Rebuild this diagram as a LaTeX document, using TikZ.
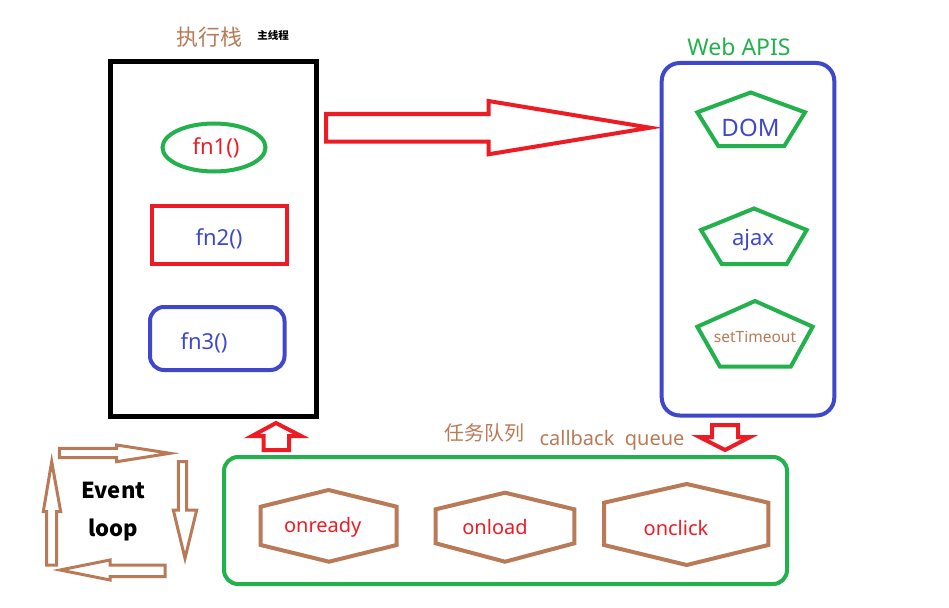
\documentclass[tikz,border=0pt]{standalone}
\usepackage{fontspec}
\setmainfont{Noto Sans}
\newfontfamily\cjk{Noto Sans CJK SC}
\definecolor{pgreen}{HTML}{22B14C}
\definecolor{pred}{HTML}{ED1C24}
\definecolor{pblue}{HTML}{3F48CC}
\definecolor{pbrown}{HTML}{B97A57}
\tikzset{
  txt/.style={inner sep=0pt, font=\fontsize{22}{26}\selectfont},
  pshape/.style={line width=4pt, line join=miter},
  loopar/.style={pbrown, line width=3pt, line join=miter},
  redar/.style={pred, line width=4pt, line join=miter},
}
\begin{document}
\begin{tikzpicture}[x=1pt,y=-1pt]
\useasboundingbox (0,0) rectangle (949,607);

% titles
\node[txt, text=pbrown, font=\cjk\fontsize{22}{26}\selectfont] (ttl) at (209,37) {执行栈};
\node[txt, font=\cjk\bfseries\fontsize{10.5}{12}\selectfont] (sub) at (273,35) {主线程};
\node[txt, text=pgreen, font=\fontsize{23}{27}\selectfont] (web) at (739,47) {Web APIS};

% call stack
\draw[line width=5pt] (110,62) rectangle (316,416);
\draw[pshape, pgreen] (214,147.5) ellipse [x radius=51.5, y radius=24];
\node[txt, text=pred] (fn1) at (216,148) {fn1()};
\draw[pshape, pred] (152,206) rectangle (286.5,263.5);
\node[txt, text=pblue] (fn2) at (219,239) {fn2()};
\draw[pshape, pblue, rounded corners=14pt] (150,307) rectangle (284.5,370);
\node[txt, text=pblue] (fn3) at (204,343) {fn3()};

% big arrow
\draw[redar] (326,114) -- (488.5,114) -- (488.5,101) -- (650,127.7) -- (488.5,154.3) -- (488.5,141.7) -- (326,141.7) -- cycle;

% web apis box
\draw[pshape, pblue, rounded corners=18pt] (661.7,63) rectangle (834.3,415.5);
\draw[pshape, pgreen] (750.7,92.5) -- (805,112.3) -- (784.3,146) -- (718.3,146) -- (697.3,112.3) -- cycle;
\node[txt, text=pblue, font=\fontsize{24}{28}\selectfont] (dom) at (750.5,127.5) {DOM};
\draw[pshape, pgreen] (754,208.5) -- (806.7,230) -- (786.7,264) -- (721.7,264) -- (701,230) -- cycle;
\node[txt, text=pblue] (ajax) at (753,240) {ajax};
\draw[pshape, pgreen] (755,301) -- (812.7,326.7) -- (790.7,366.7) -- (720,366.7) -- (697.3,326.7) -- cycle;
\node[txt, text=pbrown, font=\fontsize{15.5}{18}\selectfont] (st) at (755,337) {setTimeout};

% small red arrows
\draw[redar] (263.5,450) -- (263.5,436) -- (252,436) -- (276,423) -- (301,436) -- (289,436) -- (289,450) -- cycle;
\draw[redar] (712,425) -- (738,425) -- (738,437) -- (750,437) -- (725,450) -- (699.5,437) -- (712,437) -- cycle;

% callback queue
\node[txt, text=pbrown, font=\cjk\fontsize{20}{24}\selectfont] (rw) at (484,433) {任务队列};
\node[txt, text=pbrown, font=\fontsize{20}{24}\selectfont] (cq) at (612,440) {callback\ \ queue};
\draw[pshape, pgreen, rounded corners=14pt] (224,457) rectangle (787,584);

\draw[pshape, pbrown] (260.7,506.7) -- (328.5,490) -- (396.7,506.7) -- (396.7,545) -- (329,561.7) -- (260.7,545) -- cycle;
\node[txt, text=pred, font=\fontsize{20}{24}\selectfont] (onr) at (322.7,527.5) {onready};
\draw[pshape, pbrown] (435.7,509.3) -- (505,492.7) -- (574.3,509.3) -- (574.3,543.3) -- (505,561.7) -- (435.7,543.3) -- cycle;
\node[txt, text=pred, font=\fontsize{20}{24}\selectfont] (onl) at (495,527) {onload};
\draw[pshape, pbrown] (604,502.7) -- (686.7,484) -- (768.3,502.7) -- (768.3,545) -- (686.7,565) -- (604,545) -- cycle;
\node[txt, text=pred, font=\fontsize{20}{24}\selectfont] (onc) at (676,527.5) {onclick};

% event loop
\node[txt, font=\cjk\bfseries\fontsize{22}{26}\selectfont] (ev) at (113.3,490) {Event};
\node[txt, font=\cjk\bfseries\fontsize{22}{26}\selectfont] (lp) at (113,530) {loop};
\draw[loopar] (59.3,448.3) -- (116.7,448.3) -- (116.7,445) -- (170,453.3) -- (116.7,461.7) -- (116.7,457.7) -- (59.3,457.7) -- cycle;
\draw[loopar] (178.3,461.7) -- (186.7,461.7) -- (186.7,510) -- (196.7,510) -- (185,558.3) -- (173.3,510) -- (178.3,510) -- cycle;
\draw[loopar] (165,565) -- (165,576.7) -- (110,576.7) -- (110,580) -- (60,570) -- (110,560) -- (110,565) -- cycle;
\draw[loopar] (46.7,565) -- (56.7,565) -- (56.7,511.7) -- (60.7,511.7) -- (51.7,461.7) -- (43.3,511.7) -- (46.7,511.7) -- cycle;
\end{tikzpicture}
\end{document}
